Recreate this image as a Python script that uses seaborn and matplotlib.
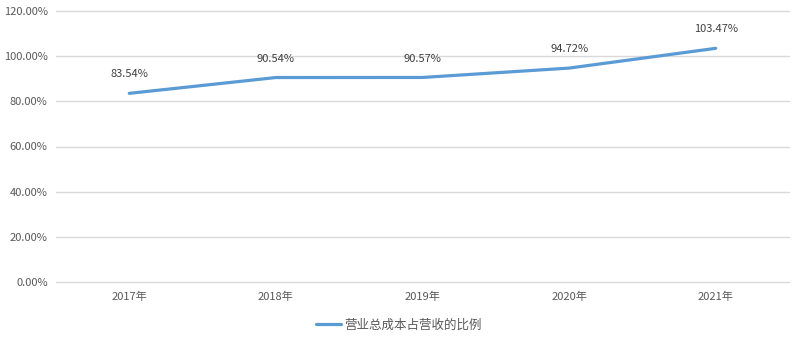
import matplotlib
matplotlib.use("Agg")
import matplotlib.pyplot as plt
import seaborn as sns
import pandas as pd
from matplotlib.ticker import FuncFormatter

years = ["2017年", "2018年", "2019年", "2020年", "2021年"]
ratios = [83.54, 90.54, 90.57, 94.72, 103.47]
series_name = "营业总成本占营收的比例"

sns.set_theme(style="white")
plt.rcParams['font.family'] = ['Noto Sans CJK SC', 'DejaVu Sans']

df = pd.DataFrame({"year": years, "ratio": ratios, "series": series_name})

fig = plt.figure(figsize=(7.98, 3.38), dpi=100)
ax = fig.add_axes([56/798, 1-282/338, (789-56)/798, (282-11)/338])

sns.lineplot(data=df, x="year", y="ratio", hue="series", palette=["#5B9BD5"],
             linewidth=2.3, ax=ax, sort=False, legend=True)

ax.set_xlim(-0.5, len(years) - 0.5)
ax.set_ylim(0, 120)
ax.set_yticks([0, 20, 40, 60, 80, 100, 120])
ax.yaxis.set_major_formatter(FuncFormatter(lambda v, p: f"{v:.2f}%"))
ax.grid(axis="y", color="#D9D9D9", linewidth=1)
for gl in ax.yaxis.get_gridlines():
    gl.set_clip_on(False)
ax.set_axisbelow(True)
for s in ax.spines.values():
    s.set_visible(False)
ax.tick_params(axis="both", length=0, labelsize=8, labelcolor="#595959")
ax.tick_params(axis="y", pad=6)
ax.tick_params(axis="x", pad=7)
ax.set_xlabel("")
ax.set_ylabel("")

for i, v in enumerate(ratios):
    ax.annotate(f"{v:.2f}%", (i, v), xytext=(0, 10), textcoords="offset points",
                ha="center", va="bottom", fontsize=8, color="#404040")

leg = ax.legend(loc="center", bbox_to_anchor=(0.5, 1 - 325/338),
                bbox_transform=fig.transFigure, frameon=False,
                fontsize=9, handlelength=2.0, handletextpad=0.3)
for t in leg.get_texts():
    t.set_color("#595959")

fig.savefig("out.png", dpi=100)
